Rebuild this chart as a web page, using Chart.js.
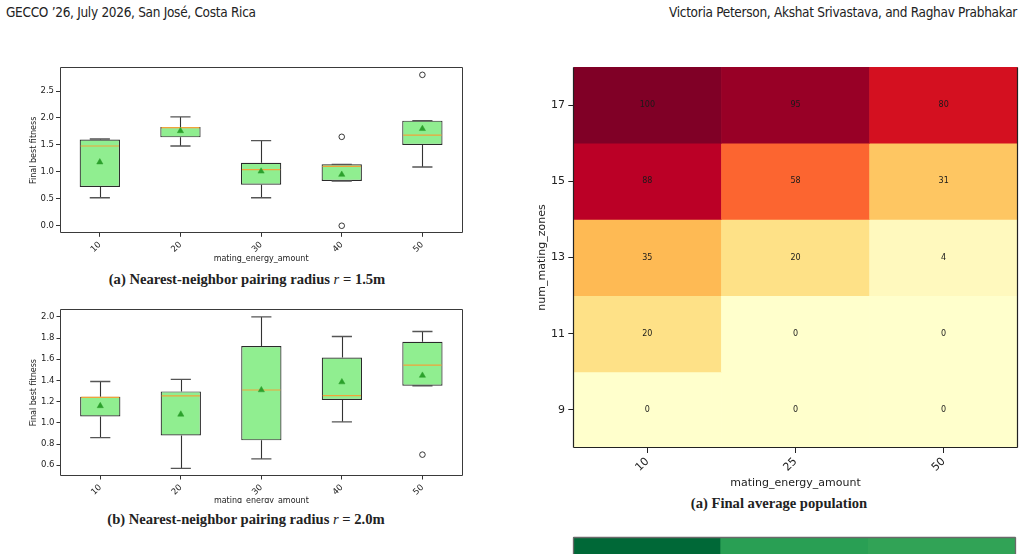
<!DOCTYPE html>
<html>
<head>
<meta charset="utf-8">
<script src="https://cdn.jsdelivr.net/npm/chart.js@4.4.1/dist/chart.umd.min.js"></script>
<style>
  html, body { margin:0; padding:0; width:1025px; height:554px; overflow:hidden; background:#fff; }
  .abs { position:absolute; }
  .hdr { font-family:"Liberation Sans Narrow","DejaVu Sans Condensed","Liberation Sans",sans-serif; font-size:13.5px; letter-spacing:-0.3px; color:#222; white-space:nowrap; top:4px; }
  .cap { font-family:"Liberation Serif","DejaVu Serif",serif; font-weight:bold; font-size:14.6px; color:#222; white-space:nowrap; transform:translate(-50%,-50%); background:#fff; padding:0 2px; }
  .cap i { font-weight:normal; }
  canvas { display:block; }
</style>
</head>
<body>
<div class="abs hdr" style="left:6px;">GECCO ’26, July 2026, San José, Costa Rica</div>
<div class="abs hdr" style="right:8px;">Victoria Peterson, Akshat Srivastava, and Raghav Prabhakar</div>

<div class="abs" style="left:0;top:55px;width:480px;height:212px;"><canvas id="boxA" width="480" height="212"></canvas></div>
<div class="abs" style="left:0;top:295px;width:480px;height:208px;overflow:hidden;"><canvas id="boxB" width="480" height="215"></canvas></div>
<div class="abs" style="left:520px;top:45px;width:505px;height:455px;"><canvas id="heat" width="505" height="455"></canvas></div>
<div class="abs" style="left:520px;top:530px;width:505px;height:24px;overflow:hidden;"><canvas id="heat2" width="505" height="300"></canvas></div>

<div class="abs cap" style="left:247px;top:279px;">(a) Nearest-neighbor pairing radius <i>r</i> = 1.5m</div>
<div class="abs cap" style="left:246px;top:519px;">(b) Nearest-neighbor pairing radius <i>r</i> = 2.0m</div>
<div class="abs cap" style="left:779px;top:503px;">(a) Final average population</div>

<script>
// ---------------- DATA ----------------
const energyLabels = ['10', '20', '30', '40', '50'];

// (a) r = 1.5m
const aWhiskerLow  = [0.52, 1.48, 0.52, 0.83, 1.09];
const aQ1          = [0.72, 1.64, 0.76, 0.83, 1.50];
const aMedian      = [1.48, 1.82, 1.04, 1.10, 1.68];
const aQ3          = [1.60, 1.83, 1.17, 1.14, 1.95];
const aWhiskerHigh = [1.61, 2.02, 1.58, 1.14, 1.95];
const aMean        = [1.18, 1.76, 1.01, 0.95, 1.80];
const aOutliers    = [[], [], [], [0.00, 1.65], [2.80]];
const aYTicks      = [0.0, 0.5, 1.0, 1.5, 2.0, 2.5];

// (b) r = 2.0m
const bWhiskerLow  = [0.86, 0.57, 0.66, 1.01, 1.35];
const bQ1          = [1.06, 0.88, 0.835, 1.215, 1.35];
const bMedian      = [1.24, 1.255, 1.31, 1.256, 1.545];
const bQ3          = [1.247, 1.297, 1.725, 1.617, 1.765];
const bWhiskerHigh = [1.39, 1.41, 2.00, 1.815, 1.862];
const bMean        = [1.16, 1.08, 1.31, 1.385, 1.447];
const bOutliers    = [[], [], [], [], [0.70]];
const bYTicks      = [0.6, 0.8, 1.0, 1.2, 1.4, 1.6, 1.8, 2.0];

// Heatmap (a) Final average population
const heatEnergy = ['10', '25', '50'];
const heatZones  = [17, 15, 13, 11, 9];
const heatRow17  = [100, 95, 80];
const heatRow15  = [88, 58, 31];
const heatRow13  = [35, 20, 4];
const heatRow11  = [20, 0, 0];
const heatRow9   = [0, 0, 0];
const heatValues = [heatRow17, heatRow15, heatRow13, heatRow11, heatRow9];

// second heatmap (only its top row is visible)
const heat2TopRow = [100, 88, 87];

// ---------------- HELPERS ----------------
const YLORRD = ['#ffffcc','#ffeda0','#fed976','#feb24c','#fd8d3c','#fc4e2a','#e31a1c','#bd0026','#800026'];
const RDYLGN = ['#a50026','#d73027','#f46d43','#fdae61','#fee08b','#ffffbf','#d9ef8b','#a6d96a','#66bd63','#1a9850','#006837'];
function hex2rgb(h){ return [parseInt(h.slice(1,3),16),parseInt(h.slice(3,5),16),parseInt(h.slice(5,7),16)]; }
function cmap(stops, t){
  t = Math.max(0, Math.min(1, t));
  const n = stops.length - 1, p = t * n;
  const i = Math.min(Math.floor(p), n - 1), f = p - i;
  const a = hex2rgb(stops[i]), b = hex2rgb(stops[i+1]);
  const c = a.map((v,k)=>Math.round(v + (b[k]-v)*f));
  return `rgb(${c[0]},${c[1]},${c[2]})`;
}

Chart.defaults.font.family = '"DejaVu Sans", sans-serif';
Chart.defaults.color = '#222';
Chart.defaults.animation = false;
Chart.defaults.responsive = false;
Chart.defaults.devicePixelRatio = 1;
Chart.defaults.plugins.legend.display = false;
Chart.defaults.plugins.tooltip.enabled = false;

const framePlugin = {
  id: 'frame',
  afterDatasetsDraw(chart, args, opts) {
    if (!opts || !opts.sides) return;
    const {left, right, top, bottom} = chart.chartArea;
    const ctx = chart.ctx;
    ctx.save();
    ctx.strokeStyle = opts.color || '#333';
    ctx.lineWidth = opts.width || 1;
    ctx.beginPath();
    const L = Math.round(left) + 0.5, R = Math.round(right) - 0.5, T = Math.round(top) + 0.5, B = Math.round(bottom) - 0.5;
    if (opts.sides.includes('t')) { ctx.moveTo(L, T); ctx.lineTo(R, T); }
    if (opts.sides.includes('b')) { ctx.moveTo(L, B); ctx.lineTo(R, B); }
    if (opts.sides.includes('l')) { ctx.moveTo(L, T); ctx.lineTo(L, B); }
    if (opts.sides.includes('r')) { ctx.moveTo(R, T); ctx.lineTo(R, B); }
    ctx.stroke();
    ctx.restore();
  }
};

const boxExtrasPlugin = {
  id: 'boxExtras',
  afterDatasetDraw(chart, args, opts) {
    if (!opts || !opts.stats || args.index !== 0) return;
    const s = opts.stats;
    const ctx = chart.ctx;
    const y = chart.scales.y;
    const meta = chart.getDatasetMeta(0);
    ctx.save();
    meta.data.forEach((bar, i) => {
      const x = bar.x, hw = bar.width / 2, cw = hw / 2;
      const pQ1 = y.getPixelForValue(s.q1[i]), pQ3 = y.getPixelForValue(s.q3[i]);
      const pLo = y.getPixelForValue(s.lo[i]), pHi = y.getPixelForValue(s.hi[i]);
      const pMed = y.getPixelForValue(s.med[i]);
      ctx.strokeStyle = '#333';
      ctx.lineWidth = 1.1;
      ctx.beginPath();
      const xs = Math.round(x) + 0.5;
      ctx.moveTo(xs, pQ1); ctx.lineTo(xs, pLo);
      ctx.moveTo(xs, pQ3); ctx.lineTo(xs, pHi);
      ctx.stroke();
      ctx.strokeStyle = '#555';
      ctx.lineWidth = 1.3;
      ctx.beginPath();
      ctx.moveTo(x - cw, pLo); ctx.lineTo(x + cw, pLo);
      ctx.moveTo(x - cw, pHi); ctx.lineTo(x + cw, pHi);
      ctx.stroke();
      ctx.strokeStyle = '#f0a33a';
      ctx.lineWidth = 1.2;
      ctx.beginPath();
      ctx.moveTo(x - hw + 1, pMed); ctx.lineTo(x + hw - 1, pMed);
      ctx.stroke();
    });
    ctx.restore();
  }
};

const cellLabelPlugin = {
  id: 'cellLabels',
  afterDatasetsDraw(chart, args, opts) {
    if (!opts || !opts.values) return;
    const ctx = chart.ctx;
    ctx.save();
    ctx.font = '8px "DejaVu Sans", sans-serif';
    ctx.fillStyle = '#1a1a1a';
    ctx.textAlign = 'center';
    ctx.textBaseline = 'middle';
    chart.data.datasets.forEach((ds, di) => {
      chart.getDatasetMeta(di).data.forEach((el, j) => {
        ctx.fillText(String(opts.values[di][j]), el.x, (el.y + el.base) / 2);
      });
    });
    ctx.restore();
  }
};

Chart.register(framePlugin, boxExtrasPlugin, cellLabelPlugin);

function makeBox(id, st, outliers, yMin, yMax, yTicks, g) {
  const outPts = outliers.flatMap((arr, i) => arr.map(v => ({x: energyLabels[i], y: v})));
  return new Chart(document.getElementById(id), {
    type: 'bar',
    data: {
      labels: energyLabels,
      datasets: [
        { type: 'bar', data: st.q1.map((q, i) => [q, st.q3[i]]), backgroundColor: '#90ee90',
          borderColor: '#2a2a2a', borderWidth: 1.2, borderSkipped: false,
          barPercentage: 0.5, categoryPercentage: 1, order: 3 },
        { type: 'line', data: outPts, showLine: false, pointStyle: 'circle', pointRadius: 2.8,
          pointBorderWidth: 0.9, pointBorderColor: '#222', pointBackgroundColor: 'rgba(0,0,0,0)', order: 1 },
        { type: 'line', data: st.mean, showLine: false, pointStyle: 'triangle', pointRadius: 3.6,
          pointBorderWidth: 0.5, pointBorderColor: '#2ca02c', pointBackgroundColor: '#2ca02c', order: 0 }
      ]
    },
    options: {
      layout: { padding: { top: g.top, right: g.right, left: 0, bottom: 0 } },
      scales: {
        x: {
          offset: true,
          grid: { display: true, offset: false, drawOnChartArea: false, drawTicks: true, tickLength: 3.5, color: '#333', tickColor: '#333' },
          border: { display: false },
          ticks: { font: { size: 8.5 }, color: '#222', minRotation: 45, maxRotation: 45, autoSkip: false, padding: 3 },
          title: { display: true, text: 'mating_energy_amount', font: { size: 8 }, color: '#222', padding: { top: 0, bottom: g.xTitlePad } },
          afterFit(s) { s.height = g.xH; }
        },
        y: {
          min: yMin, max: yMax,
          afterBuildTicks(s) { s.ticks = yTicks.map(v => ({ value: v })); },
          grid: { display: true, drawOnChartArea: false, drawTicks: true, tickLength: 3.5, tickColor: '#333' },
          border: { display: false },
          ticks: { font: { size: 8.5 }, color: '#222', padding: 2, callback: v => Number(v).toFixed(1) },
          title: { display: true, text: 'Final best fitness', font: { size: 8 }, color: '#222', padding: { top: g.yTitlePad, bottom: 0 } },
          afterFit(s) { s.width = g.yW; }
        }
      },
      plugins: {
        frame: { sides: 'tblr', color: '#3a3a3a', width: 1 },
        boxExtras: { stats: { q1: st.q1, q3: st.q3, lo: st.lo, hi: st.hi, med: st.med } }
      }
    }
  });
}

makeBox('boxA',
  { q1: aQ1, q3: aQ3, lo: aWhiskerLow, hi: aWhiskerHigh, med: aMedian, mean: aMean },
  aOutliers, -0.14, 2.94, aYTicks,
  { top: 12.3, right: 17.3, xH: 212 - 178.3, yW: 59.5, xTitlePad: 3.2, yTitlePad: 29.2 });

makeBox('boxB',
  { q1: bQ1, q3: bQ3, lo: bWhiskerLow, hi: bWhiskerHigh, med: bMedian, mean: bMean },
  bOutliers, 0.4985, 2.0715, bYTicks,
  { top: 14.3, right: 17.3, xH: 215 - 181, yW: 60, xTitlePad: 4.2, yTitlePad: 29.2 });

// Heatmap
new Chart(document.getElementById('heat'), {
  type: 'bar',
  data: {
    labels: heatEnergy,
    datasets: heatZones.map((z, ri) => ({
      data: heatEnergy.map(() => [z - 1, z + 1]),
      backgroundColor: heatValues[ri].map(v => cmap(YLORRD, v / 100)),
      borderWidth: 0, barPercentage: 1, categoryPercentage: 1, grouped: false
    }))
  },
  options: {
    layout: { padding: { top: 22, right: 7.3, left: 0, bottom: 0 } },
    scales: {
      x: {
        offset: true,
        grid: { display: true, offset: false, drawOnChartArea: false, drawTicks: true, tickLength: 5, tickColor: '#222' },
        border: { display: false },
        ticks: { font: { size: 11 }, color: '#222', minRotation: 45, maxRotation: 45, autoSkip: false, padding: 2 },
        title: { display: true, text: 'mating_energy_amount', font: { size: 11 }, color: '#222', padding: { top: 0, bottom: 10 } },
        afterFit(s) { s.height = 52; }
      },
      y: {
        min: 8, max: 18,
        afterBuildTicks(s) { s.ticks = heatZones.map(v => ({ value: v })); },
        grid: { display: true, drawOnChartArea: false, drawTicks: true, tickLength: 5, tickColor: '#222' },
        border: { display: false },
        ticks: { font: { size: 11 }, color: '#222', padding: 3.3 },
        title: { display: true, text: 'num_mating_zones', font: { size: 11 }, color: '#222', padding: { top: 15.1, bottom: 0 } },
        afterFit(s) { s.width = 53.3; }
      }
    },
    plugins: {
      frame: { sides: 'blr', color: '#222', width: 1.2 },
      cellLabels: { values: heatValues }
    }
  }
});

// Second heatmap (top row visible only)
new Chart(document.getElementById('heat2'), {
  type: 'bar',
  data: {
    labels: heatEnergy,
    datasets: [{
      data: heatEnergy.map(() => [16, 18]),
      backgroundColor: heat2TopRow.map(v => cmap(RDYLGN, v / 100)),
      borderWidth: 0, barPercentage: 1, categoryPercentage: 1, grouped: false
    }]
  },
  options: {
    layout: { padding: { top: 7.3, right: 9, left: 53, bottom: 0 } },
    scales: {
      x: { display: false, offset: true },
      y: { display: false, min: 8, max: 18 }
    },
    plugins: {
      frame: { sides: 'tlr', color: '#6a6a6a', width: 1.3 }
    }
  }
});
</script>
</body>
</html>
